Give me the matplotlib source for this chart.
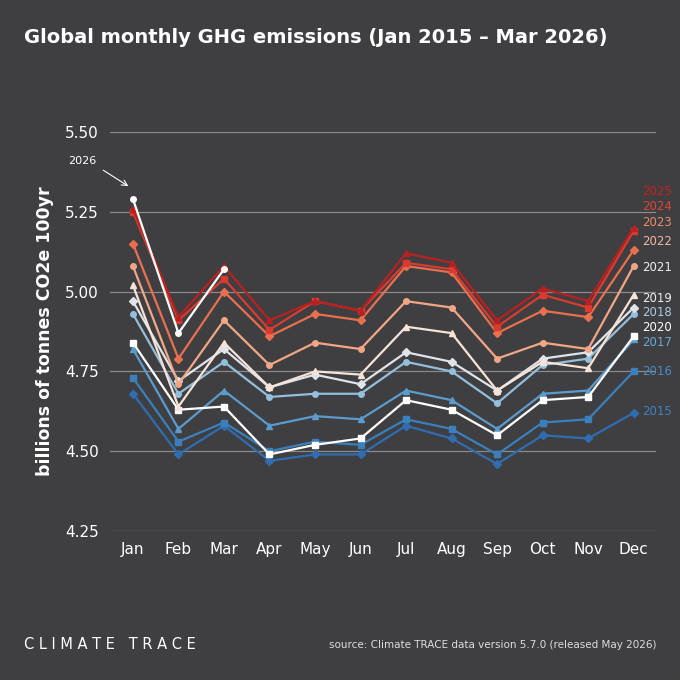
import matplotlib
matplotlib.use("Agg")
import matplotlib.pyplot as plt

months = ["Jan","Feb","Mar","Apr","May","Jun","Jul","Aug","Sep","Oct","Nov","Dec"]
years = [2015,2016,2017,2018,2019,2020,2021,2022,2023,2024,2025,2026]
v2015 = [4.68,4.49,4.58,4.47,4.49,4.49,4.58,4.54,4.46,4.55,4.54,4.62]
v2016 = [4.73,4.53,4.59,4.50,4.53,4.52,4.60,4.57,4.49,4.59,4.60,4.75]
v2017 = [4.82,4.57,4.69,4.58,4.61,4.60,4.69,4.66,4.57,4.68,4.69,4.85]
v2018 = [4.93,4.68,4.78,4.67,4.68,4.68,4.78,4.75,4.65,4.77,4.79,4.93]
v2019 = [4.97,4.72,4.82,4.70,4.74,4.71,4.81,4.78,4.69,4.79,4.81,4.95]
v2020 = [4.84,4.63,4.64,4.49,4.52,4.54,4.66,4.63,4.55,4.66,4.67,4.86]
v2021 = [5.02,4.64,4.84,4.70,4.75,4.74,4.89,4.87,4.69,4.78,4.76,4.99]
v2022 = [5.08,4.71,4.91,4.77,4.84,4.82,4.97,4.95,4.79,4.84,4.82,5.08]
v2023 = [5.15,4.79,5.00,4.86,4.93,4.91,5.08,5.06,4.87,4.94,4.92,5.13]
v2024 = [5.25,4.91,5.04,4.88,4.97,4.94,5.09,5.07,4.89,4.99,4.95,5.19]
v2025 = [5.26,4.92,5.08,4.91,4.97,4.94,5.12,5.09,4.91,5.01,4.97,5.20]
v2026 = [5.29,4.87,5.07]
series = [v2015,v2016,v2017,v2018,v2019,v2020,v2021,v2022,v2023,v2024,v2025,v2026]
colors = ["#2f6db0","#3b7fbd","#5b9bcd","#93bfdd","#dfe3ea","#ffffff",
          "#f7e3d7","#f1a786","#e8704f","#d93b30","#b8211f","#ffffff"]
markers = ["D","s","^","o","D","s","^","o","D","s","^","o"]
label_y = {2025:5.312,2024:5.268,2023:5.215,2022:5.158,2021:5.074,2019:4.977,
           2018:4.933,2020:4.889,2017:4.842,2016:4.751,2015:4.625}
label_c = {2015:"#3f82c2",2016:"#4a8bc6",2017:"#6aa6d6",2018:"#a9cbe6",2019:"#eeeeee",
           2020:"#ffffff",2021:"#eeeeee",2022:"#f2b8a0",2023:"#ee8a6a",2024:"#dc4438",2025:"#c4221f"}

bg = "#3f3f41"
fig = plt.figure(figsize=(6.8,6.8), dpi=100, facecolor=bg)
ax = fig.add_axes([0.162,0.219,0.802,0.587], facecolor=bg)
x = list(range(12))
for yr, s, c, m in zip(years, series, colors, markers):
    ax.plot(x[:len(s)], s, color=c, marker=m, markersize=4, lw=1.6, zorder=3 if yr!=2026 else 5)
for yr, yy in label_y.items():
    ax.text(11.18, yy, str(yr), color=label_c[yr], fontsize=8.5, va="center", ha="left",
            clip_on=False)
ax.text(-1.43, 5.41, "2026", color="white", fontsize=8, ha="left", va="center", clip_on=False)
ax.annotate("", xy=(-0.1,5.33), xytext=(-0.65,5.38),
            arrowprops=dict(arrowstyle="->", color="white", lw=0.8, shrinkA=0, shrinkB=0),
            annotation_clip=False)
ax.set_xlim(-0.5,11.48)
ax.set_ylim(4.25,5.5)
ax.set_yticks([4.25,4.5,4.75,5.0,5.25,5.5])
ax.set_yticklabels(["4.25","4.50","4.75","5.00","5.25","5.50"])
ax.set_xticks(x)
ax.set_xticklabels(months)
ax.grid(axis="y", color="#8a8a8c", lw=0.9)
ax.set_axisbelow(True)
for sp in ax.spines.values():
    sp.set_visible(False)
ax.tick_params(colors="white", length=0, labelsize=11, pad=8)
ax.set_ylabel("billions of tonnes CO2e 100yr", color="white", fontsize=12.5, fontweight="bold", labelpad=8)
fig.text(0.035,0.945,"Global monthly GHG emissions (Jan 2015 – Mar 2026)", color="white",
         fontsize=14, fontweight="bold", va="center")
fig.text(0.035,0.052,"C L I M A T E   T R A C E", color="white", fontsize=10.5, va="center")
fig.text(0.965,0.052,"source: Climate TRACE data version 5.7.0 (released May 2026)", color="#dddddd",
         fontsize=7.5, va="center", ha="right")
fig.savefig("out.png", facecolor=bg)
